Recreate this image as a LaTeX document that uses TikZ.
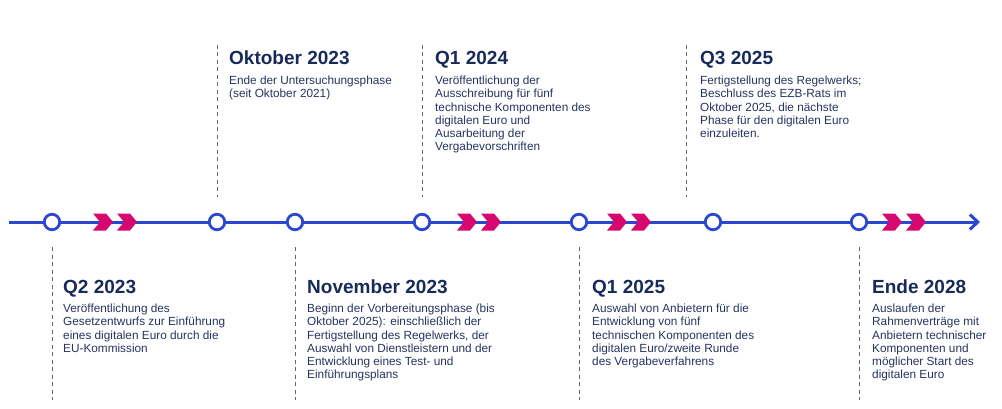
\documentclass[tikz,border=0pt]{standalone}
\usepackage{fontspec}
\setmainfont{Liberation Sans}
\usetikzlibrary{positioning, arrows.meta}
\definecolor{lineblue}{HTML}{2C47CF}
\definecolor{chevpink}{HTML}{D6086F}
\definecolor{navy}{HTML}{172A5A}
\definecolor{bodytext}{HTML}{26335E}

\begin{document}
\begin{tikzpicture}[x=1pt, y=-1pt, >={Straight Barb[length=8pt,width=15pt]},
    every node/.style={inner sep=0pt},
    dot/.style={circle, draw=lineblue, fill=white, line width=2.8pt, minimum size=15.5pt},
    datum/.style={font=\fontsize{19}{22}\bfseries, text=navy, anchor=base west},
    info/.style={font=\fontsize{11.8}{13.2}\selectfont, text=bodytext, align=left},
    guide/.style={gray!80!black, line width=0.8pt, dash pattern=on 4pt off 3.5pt},
    chev/.pic={\fill[chevpink] (0,-8.5) -- (13,-8.5) -- (20,0) -- (13,8.5) -- (0,8.5) -- (7,0) -- cycle;}]
    \useasboundingbox (0,0) rectangle (1002,409);

    % timeline
    \coordinate (start) at (9,222);
    \coordinate (end) at (980,222);
    \draw[->, lineblue, line width=3pt] (start) -- (end);
    \pic at (93,222) {chev};  \pic at (117,222) {chev};
    \pic at (457,222) {chev}; \pic at (481,222) {chev};
    \pic at (607,222) {chev}; \pic at (631,222) {chev};
    \pic at (882,222) {chev}; \pic at (906,222) {chev};

    \node (m1) [dot] at (52,222) {};
    \node (m2) [dot] at (217,222) {};
    \node (m3) [dot] at (295,222) {};
    \node (m4) [dot] at (422,222) {};
    \node (m5) [dot] at (579,222) {};
    \node (m6) [dot] at (713,222) {};
    \node (m7) [dot] at (859,222) {};

    % above the line
    \coordinate (g2a) at (217,45); \coordinate (g2b) at (217,197);
    \draw[guide] (g2a) -- (g2b);
    \node (okt) [datum] at (229,65) {Oktober 2023};
    \node (oktx) [info, below=11pt of okt.base west, anchor=north west] {Ende der Untersuchungsphase \\ (seit Oktober 2021)};

    \coordinate (g4a) at (422,45); \coordinate (g4b) at (422,197);
    \draw[guide] (g4a) -- (g4b);
    \node (qa) [datum] at (435,65) {Q1 2024};
    \node (qax) [info, below=11pt of qa.base west, anchor=north west] {Veröffentlichung der \\ Ausschreibung für fünf \\ technische Komponenten des \\ digitalen Euro und \\ Ausarbeitung der \\ Vergabevorschriften};

    \coordinate (g6a) at (686,45); \coordinate (g6b) at (686,197);
    \draw[guide] (g6a) -- (g6b);
    \node (qc) [datum] at (700,65) {Q3 2025};
    \node (qcx) [info, below=11pt of qc.base west, anchor=north west] {Fertigstellung des Regelwerks; \\ Beschluss des EZB-Rats im \\ Oktober 2025, die nächste \\ Phase für den digitalen Euro \\ einzuleiten.};

    % below the line
    \coordinate (g1a) at (52,247); \coordinate (g1b) at (52,400);
    \draw[guide] (g1a) -- (g1b);
    \node (qb) [datum] at (63,293) {Q2 2023};
    \node (qbx) [info, below=11pt of qb.base west, anchor=north west] {Veröffentlichung des \\ Gesetzentwurfs zur Einführung \\ eines digitalen Euro durch die \\ EU-Kommission};

    \coordinate (g3a) at (295,247); \coordinate (g3b) at (295,400);
    \draw[guide] (g3a) -- (g3b);
    \node (nov) [datum] at (307,293) {November 2023};
    \node (novx) [info, below=11pt of nov.base west, anchor=north west] {Beginn der Vorbereitungsphase (bis \\ Oktober 2025): einschließlich der \\ Fertigstellung des Regelwerks, der \\ Auswahl von Dienstleistern und der \\ Entwicklung eines Test- und \\ Einführungsplans};

    \coordinate (g5a) at (579,247); \coordinate (g5b) at (579,400);
    \draw[guide] (g5a) -- (g5b);
    \node (qd) [datum] at (592,293) {Q1 2025};
    \node (qdx) [info, below=11pt of qd.base west, anchor=north west] {Auswahl von Anbietern für die \\ Entwicklung von fünf \\ technischen Komponenten des \\ digitalen Euro/zweite Runde \\ des Vergabeverfahrens};

    \coordinate (g7a) at (859,247); \coordinate (g7b) at (859,400);
    \draw[guide] (g7a) -- (g7b);
    \node (ende) [datum] at (872,293) {Ende 2028};
    \node (endex) [info, below=11pt of ende.base west, anchor=north west] {Auslaufen der \\ Rahmenverträge mit \\ Anbietern technischer \\ Komponenten und \\ möglicher Start des \\ digitalen Euro};
\end{tikzpicture}
\end{document}
